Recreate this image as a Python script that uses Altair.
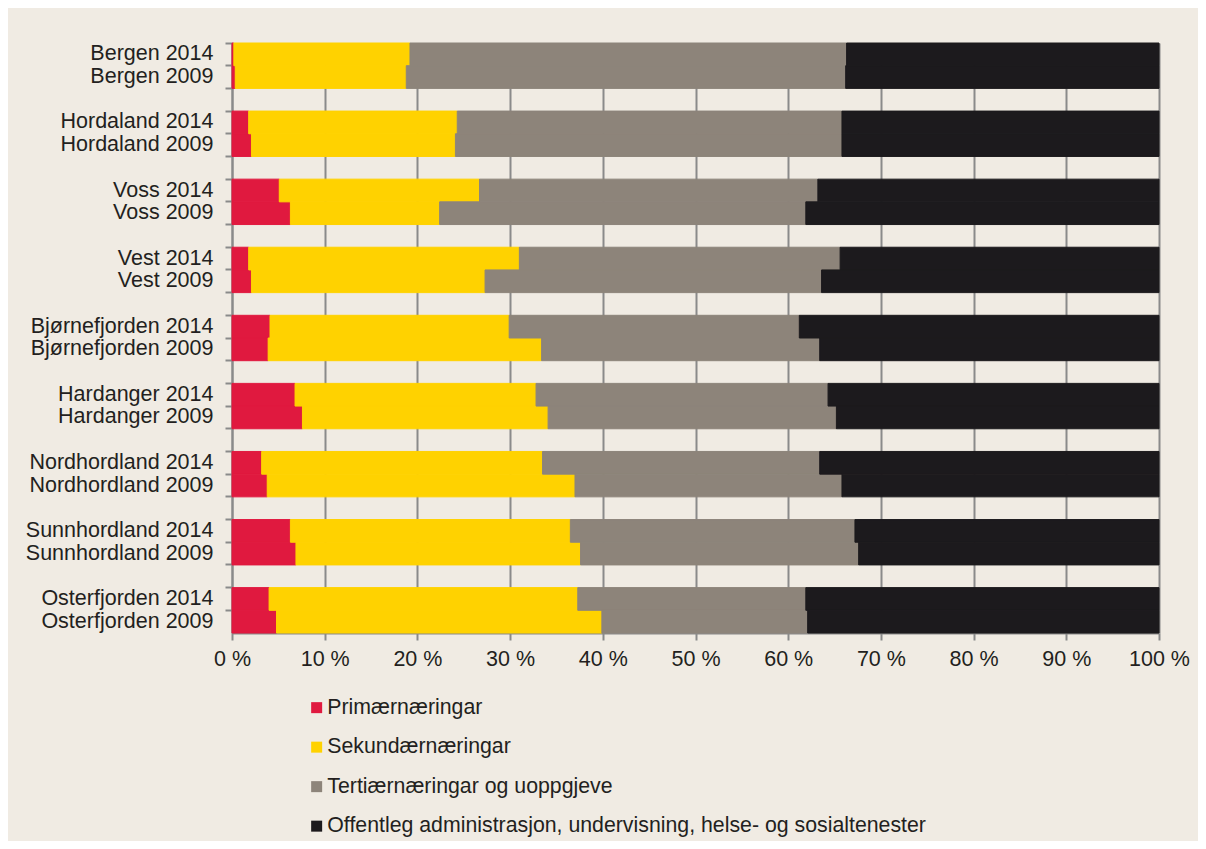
import altair as alt
import pandas as pd

regions = ["Bergen", "Hordaland", "Voss", "Vest", "Bjørnefjorden",
           "Hardanger", "Nordhordland", "Sunnhordland", "Osterfjorden"]
years = ["2014", "2009"]

series = ["Primærnæringar", "Sekundærnæringar", "Tertiærnæringar og uoppgjeve",
          "Offentleg administrasjon, undervisning, helse- og sosialtenester"]
colors = ["#e0193f", "#ffd200", "#8d847a", "#1c1a1d"]

# order of bars: region 2014, region 2009
primaer = [0.2, 0.35, 1.8, 2.1, 5.1, 6.3, 1.8, 2.1, 4.1, 3.9,
           6.8, 7.6, 3.2, 3.8, 6.3, 6.9, 4.0, 4.8]
sekundaer = [19.0, 18.45, 22.5, 22.0, 21.6, 16.1, 29.2, 25.2, 25.8, 29.5,
             26.0, 26.5, 30.3, 33.2, 30.2, 30.7, 33.3, 35.1]
tertiaer = [47.1, 47.4, 41.5, 41.7, 36.5, 39.5, 34.6, 36.3, 31.3, 30.0,
            31.5, 31.1, 29.9, 28.8, 30.7, 30.0, 24.6, 22.2]
offentleg = [33.7, 33.8, 34.2, 34.2, 36.8, 38.1, 34.4, 36.4, 38.8, 36.6,
             35.7, 34.8, 36.6, 34.2, 32.8, 32.4, 38.1, 37.9]

x_ticks = [0, 10, 20, 30, 40, 50, 60, 70, 80, 90, 100]

bar_labels = [f"{r} {y}" for r in regions for y in years]
domain = []
for i, r in enumerate(regions):
    if i > 0:
        domain.append(f"gap{i}")
    for y in years:
        domain.append(f"{r} {y}")

rows = []
for s_i, (name, vals) in enumerate(zip(series, [primaer, sekundaer, tertiaer, offentleg])):
    for lbl, v in zip(bar_labels, vals):
        rows.append({"label": lbl, "serie": name, "value": v, "ord": s_i})
df = pd.DataFrame(rows)

FONT = "Liberation Sans"
TXT = "#231f20"
GRID = "#8a8a8a"
FS = 21.5

chart = alt.Chart(df).mark_bar(strokeWidth=1).encode(
    y=alt.Y("label:N", scale=alt.Scale(domain=domain, paddingInner=0, paddingOuter=0),
            axis=alt.Axis(title=None, bandPosition=0,
                          labelExpr="indexof(datum.label,'gap')==0 ? '' : datum.label",
                          tickSize=7, tickColor=GRID, tickWidth=2, domainColor=GRID,
                          domainWidth=2, labelPadding=12, labelFontSize=FS,
                          labelFont=FONT, labelColor=TXT, grid=False, labelLimit=400)),
    x=alt.X("value:Q", stack="zero", scale=alt.Scale(domain=[0, 100], nice=False),
            axis=alt.Axis(title=None, values=x_ticks, labelExpr="datum.value + ' %'",
                          tickSize=7, tickColor=GRID, tickWidth=2, domainColor=GRID,
                          domainWidth=2, labelPadding=8, labelFontSize=FS,
                          labelFont=FONT, labelColor=TXT, grid=True, gridColor=GRID,
                          gridWidth=2, gridOpacity=1, labelFlush=False)),
    color=alt.Color("serie:N", scale=alt.Scale(domain=series, range=colors),
                    legend=alt.Legend(title=None, orient="none", legendX=74, legendY=654,
                                      direction="vertical", symbolType="square",
                                      symbolSize=121, symbolStrokeWidth=0,
                                      symbolOpacity=1, labelFont=FONT,
                                      labelFontSize=21.3, labelColor=TXT,
                                      rowPadding=17.5, labelOffset=0, padding=0,
                                      labelLimit=900)),
    stroke=alt.Stroke("serie:N", scale=alt.Scale(domain=series, range=colors), legend=None),
    order=alt.Order("ord:Q", sort="ascending"),
).properties(
    width=927, height=590,
    autosize=alt.AutoSizeParams(type="none"),
    padding={"left": 224, "top": 35, "right": 39, "bottom": 208},
    background="#f0ebe3",
).configure_view(stroke=None)

chart.save("out.html", embed_options={"renderer": "svg", "actions": False})
